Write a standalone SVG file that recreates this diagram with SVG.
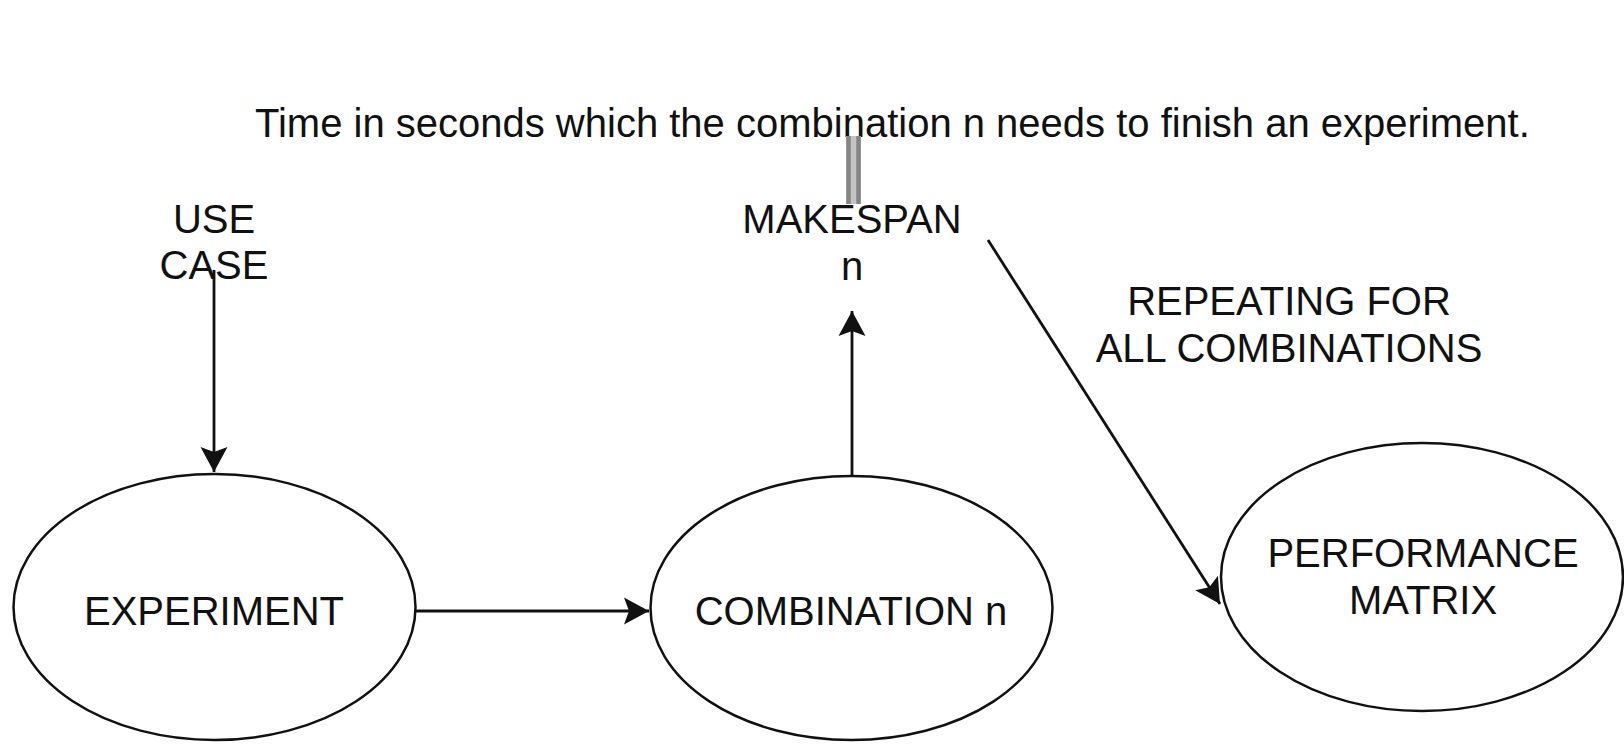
<svg xmlns="http://www.w3.org/2000/svg" width="1624" height="744" viewBox="0 0 1624 744">
  <style>
    text { font-family: "Liberation Sans", Arial, Helvetica, sans-serif; font-size: 40px; fill: #111; }
    .mid { text-anchor: middle; }
    .node { fill: #fff; stroke: #111; stroke-width: 2.5; }
    .edge { fill: none; stroke: #111; stroke-width: 2.8; }
    .bar { stroke: #858585; stroke-width: 4.5; }
  </style>
  <defs>
    <marker id="arrow" markerUnits="userSpaceOnUse" markerWidth="40" markerHeight="40" viewBox="-30 -20 40 40" refX="0" refY="0" orient="auto">
      <path d="M0,0 L-25,-13.5 L-20,0 L-25,13.5 Z" fill="#111"/>
    </marker>
  </defs>

  <rect width="1624" height="744" fill="#fff"/>

  <!-- caption for the makespan value, tied to it by a double bar -->
  <g id="caption">
    <text x="255" y="137">Time in seconds which the combination n needs to finish an experiment.</text>
    <rect x="846" y="136" width="15" height="68" fill="#c4c4c4"/>
    <line class="bar" x1="848.5" y1="136" x2="848.5" y2="204"/>
    <line class="bar" x1="858.5" y1="136" x2="858.5" y2="204"/>
  </g>

  <g id="use-case">
    <text class="mid" x="214" y="233">USE</text>
    <text class="mid" x="214" y="279">CASE</text>
  </g>

  <g id="makespan">
    <text class="mid" x="852" y="233">MAKESPAN</text>
    <text class="mid" x="852" y="280">n</text>
  </g>

  <g id="repeat-label">
    <text class="mid" x="1289" y="315">REPEATING FOR</text>
    <text class="mid" x="1289" y="362">ALL COMBINATIONS</text>
  </g>

  <g id="experiment">
    <ellipse class="node" cx="214.5" cy="607" rx="201" ry="133"/>
    <text class="mid" x="214" y="625">EXPERIMENT</text>
  </g>

  <g id="combination">
    <ellipse class="node" cx="851.5" cy="608" rx="201" ry="132"/>
    <text class="mid" x="851" y="625">COMBINATION n</text>
  </g>

  <g id="performance-matrix">
    <ellipse class="node" cx="1422" cy="577" rx="201" ry="134"/>
    <text class="mid" x="1423" y="567">PERFORMANCE</text>
    <text class="mid" x="1423" y="614">MATRIX</text>
  </g>

  <g id="connectors">
    <line class="edge" x1="214" y1="270" x2="214" y2="472" marker-end="url(#arrow)"/>
    <line class="edge" x1="416" y1="611" x2="649" y2="611" marker-end="url(#arrow)"/>
    <line class="edge" x1="852" y1="476" x2="852" y2="311" marker-end="url(#arrow)"/>
    <line class="edge" x1="988" y1="240" x2="1220" y2="604" marker-end="url(#arrow)"/>
  </g>
</svg>
